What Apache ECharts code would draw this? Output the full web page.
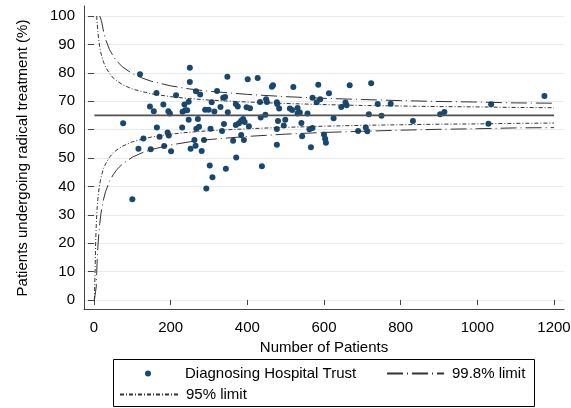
<!DOCTYPE html>
<html><head><meta charset="utf-8">
<script src="https://cdn.jsdelivr.net/npm/echarts@6/dist/echarts.min.js"></script>
<style>html,body{margin:0;padding:0;background:#fff}#c{width:571px;height:408px}</style>
</head><body><div id="c"></div>
<script>
// ---- data ----
const trustPatients = [120,250,250,348,401,163,214,266,277,321,337,342,146,156,181,194,198,236,247,231,238,243,290,299,307,314,330,349,370,375,398,76,247,271,164,129,171,192,195,230,267,274,304,334,339,370,378,384,389,393,404,384,391,363,116,148,183,201,262,287,265,252,281,371,302,344,309,293,100,
427,464,467,520,585,667,723,613,570,590,581,449,451,433,477,478,483,511,517,531,531,537,557,407,447,435,480,499,495,477,541,625,645,656,659,717,740,774,750,562,570,543,600,603,605,566,477,689,709,713,438,
832,903,914,1036,1029,1175];
const trustPercent = [79.5,81.8,76.8,78.6,77.7,72.9,72.1,73.5,72.4,73.6,71.2,71.5,68.1,66.5,68.8,66.5,65.7,68.8,69.8,66.3,66.8,66.8,67.0,67.0,69.6,66.4,68.0,66.1,69.0,68.1,67.9,62.2,63.5,63.7,60.7,56.9,57.5,59.0,57.9,60.7,60.3,61.0,60.3,59.5,62.0,61.6,62.2,63.1,63.7,62.7,61.2,58.1,56.3,56.1,53.3,53.1,54.2,52.4,56.3,56.3,54.3,53.3,52.5,50.2,47.4,46.2,43.2,39.3,35.5,
78.2,75.1,75.6,75.0,75.8,75.6,76.3,72.8,71.2,70.7,69.6,70.7,69.7,69.7,69.6,69.0,67.4,67.4,66.9,67.6,65.7,66.0,65.7,67.5,65.2,64.3,63.0,63.5,61.4,60.2,62.3,64.0,68.0,69.5,68.6,65.4,69.0,69.1,64.9,60.1,60.6,57.7,58.3,56.8,55.4,53.8,54.7,59.5,60.7,59.4,47.1,
63.0,65.4,66.2,68.9,62.1,71.8];

const meanN = [1, 1200];
const meanPct = [65, 65];

const limitN   = [1,2,3,4,5,6,7,8,10,12,15,18,20,25,30,40,50,60,75,100,125,150,200,250,300,400,500,600,700,800,900,1000,1100,1200];
const upper998 = [null,null,null,null,null,null,null,null,null,null,100,99.7,98.0,94.5,91.9,88.3,85.9,84.0,82.0,79.7,78.2,77.0,75.4,74.3,73.5,72.4,71.6,71.0,70.6,70.2,69.9,69.7,69.4,69.3];
const lower998 = [0,0,0,0,0,4.8,9.3,12.9,18.4,22.5,26.9,30.3,32.0,35.5,38.1,41.7,44.1,46.0,48.0,50.3,51.8,53.0,54.6,55.7,56.5,57.6,58.4,59.0,59.4,59.8,60.1,60.3,60.6,60.7];
const upper95  = [null,null,null,null,null,null,100,98.0,94.6,92.0,89.1,87.0,85.9,83.7,82.1,79.8,78.2,77.1,75.8,74.3,73.4,72.6,71.6,70.9,70.4,69.7,69.2,68.8,68.5,68.3,68.1,68.0,67.8,67.7];
const lower95  = [0,0,11.0,18.3,23.2,26.8,29.7,32.0,35.4,38.0,40.9,43.0,44.1,46.3,47.9,50.2,51.8,52.9,54.2,55.7,56.6,57.4,58.4,59.1,59.6,60.3,60.8,61.2,61.5,61.7,61.9,62.0,62.2,62.3];

const xTicks = [0,200,400,600,800,1000,1200];
const yTicks = [0,10,20,30,40,50,60,70,80,90,100];

const seriesNames = ['Diagnosing Hospital Trust','99.8% limit','95% limit'];

// ---- chart ----
const font = '"Liberation Sans", Arial, sans-serif';
const pair = (xs, ys) => xs.map((x, i) => [x, ys[i]]);
const txt = {fontSize: 15, color: '#000', fontFamily: font};
const dash998 = [16, 4, 1, 4];
const dash95 = [4, 2, 1, 2];
const limStyle = (d) => ({color: '#333', width: 1, type: d});
const legTxt = Object.assign({padding: [0, 0, 0, 3]}, txt);

const chart = echarts.init(document.getElementById('c'), null, {renderer: 'canvas'});
chart.setOption({
  animation: false,
  backgroundColor: '#fff',
  grid: [
    {left: 84, right: 7, top: 16, bottom: 108, outerBoundsMode: 'none'},
    {left: 84, right: 7, top: 6, bottom: 99, outerBoundsMode: 'none'}
  ],
  xAxis: [
    {type: 'value', gridIndex: 0, min: -26.09, max: 1226.09, offset: 9,
     axisLine: {show: false},
     axisTick: {show: true, length: 5, customValues: xTicks, lineStyle: {color: '#444'}},
     axisLabel: Object.assign({customValues: xTicks, margin: 11, formatter: (v) => String(v)}, txt),
     splitLine: {show: false},
     name: 'Number of Patients', nameLocation: 'middle', nameGap: 25, nameTextStyle: txt},
    {type: 'value', gridIndex: 1, min: 0, max: 1,
     axisLine: {show: true, onZero: false, lineStyle: {color: '#444', width: 1}},
     axisTick: {show: false}, axisLabel: {show: false}, splitLine: {show: false}}
  ],
  yAxis: [
    {type: 'value', gridIndex: 0, min: yTicks[0], max: yTicks[yTicks.length - 1], interval: 10,
     axisLine: {show: false},
     axisTick: {show: true, length: 6, lineStyle: {color: '#444'}},
     axisLabel: Object.assign({margin: 9}, txt),
     splitLine: {show: true, lineStyle: {color: '#e4ecf2', width: 1}},
     name: 'Patients undergoing radical treatment (%)', nameLocation: 'middle', nameGap: 54,
     nameRotate: 90, nameTextStyle: txt},
    {type: 'value', gridIndex: 1, min: 0, max: 1,
     axisLine: {show: true, onZero: false, lineStyle: {color: '#444', width: 1}},
     axisTick: {show: false}, axisLabel: {show: false}, splitLine: {show: false}}
  ],
  graphic: [{
    type: 'rect', z: -1, silent: true,
    shape: {x: 113.5, y: 359.5, width: 421, height: 47},
    style: {fill: '#fff', stroke: '#000', lineWidth: 1}
  }],
  legend: [
    {left: 145, top: 366, padding: 0, itemWidth: 58, itemHeight: 6, selectedMode: false,
     data: [{name: seriesNames[0], icon: 'circle'}], textStyle: legTxt},
    {left: 386, top: 366, padding: 0, itemWidth: 57, itemHeight: 6, selectedMode: false,
     data: [{name: seriesNames[1], itemStyle: {opacity: 0}}], textStyle: legTxt},
    {left: 119, top: 387, padding: 0, itemWidth: 58, itemHeight: 6, selectedMode: false,
     data: [{name: seriesNames[2], itemStyle: {opacity: 0}}], textStyle: legTxt}
  ],
  series: [
    {name: seriesNames[1], type: 'line', xAxisIndex: 0, yAxisIndex: 0, data: pair(limitN, upper998),
     showSymbol: false, symbol: 'none', lineStyle: limStyle(dash998), itemStyle: {color: '#333'}, silent: true},
    {name: seriesNames[1], type: 'line', xAxisIndex: 0, yAxisIndex: 0, data: pair(limitN, lower998),
     showSymbol: false, symbol: 'none', lineStyle: limStyle(dash998), itemStyle: {color: '#333'}, silent: true},
    {name: seriesNames[2], type: 'line', xAxisIndex: 0, yAxisIndex: 0, data: pair(limitN, upper95),
     showSymbol: false, symbol: 'none', lineStyle: limStyle(dash95), itemStyle: {color: '#333'}, silent: true},
    {name: seriesNames[2], type: 'line', xAxisIndex: 0, yAxisIndex: 0, data: pair(limitN, lower95),
     showSymbol: false, symbol: 'none', lineStyle: limStyle(dash95), itemStyle: {color: '#333'}, silent: true},
    {name: 'mean', type: 'line', xAxisIndex: 0, yAxisIndex: 0, data: pair(meanN, meanPct),
     showSymbol: false, symbol: 'none', lineStyle: {color: '#505050', width: 1.6}, silent: true},
    {name: seriesNames[0], type: 'scatter', xAxisIndex: 0, yAxisIndex: 0, data: pair(trustPatients, trustPercent),
     symbol: 'circle', symbolSize: 6, itemStyle: {color: '#1a476f', opacity: 1}, silent: true}
  ]
});
</script>
</body></html>
